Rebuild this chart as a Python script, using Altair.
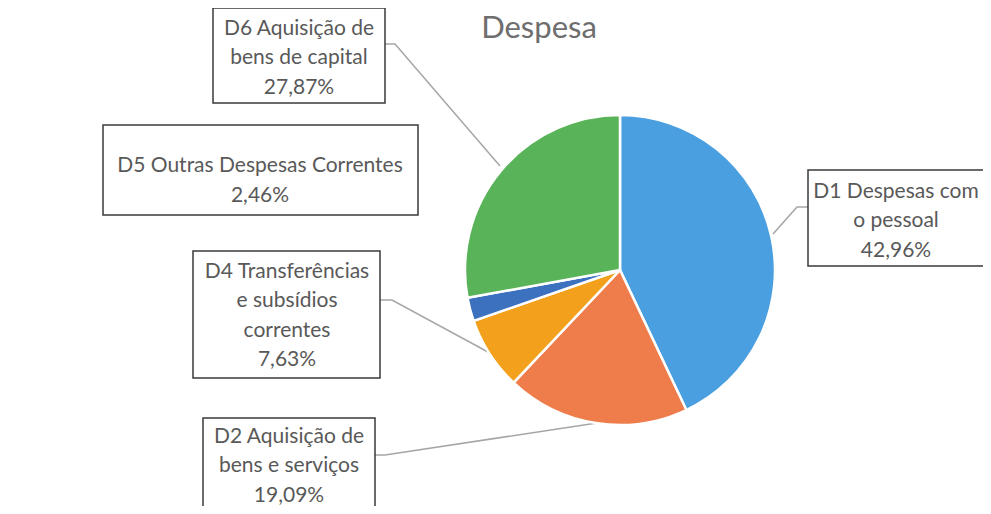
import altair as alt
import pandas as pd

# ---- data ----
categories = [
    "D1 Despesas com o pessoal",
    "D2 Aquisição de bens e serviços",
    "D4 Transferências e subsídios correntes",
    "D5 Outras Despesas Correntes",
    "D6 Aquisição de bens de capital",
]
values = [42.96, 19.09, 7.63, 2.46, 27.87]
label_lines = [
    ["D1 Despesas com", "o pessoal"],
    ["D2 Aquisição de", "bens e serviços"],
    ["D4 Transferências", "e subsídios", "correntes"],
    ["D5 Outras Despesas Correntes"],
    ["D6 Aquisição de", "bens de capital"],
]
title_text = "Despesa"

# ---- styles / layout (page pixels) ----
colors = ["#4a9fe0", "#ef7d4c", "#f3a11d", "#3b71bf", "#59b459"]
M = 8  # page margin
W, H = 975, 498
CX, CY, R = 620, 270, 155
boxes = [(808, 1000, 170, 266), (203, 375, 418, 530), (193, 380, 251, 378),
         (103, 418, 125, 215), (213, 385, 8, 103)]
text_centers = [(896, 221), (289, 466), (287, 316), (260, 181), (299, 58)]
line_h = 29.5
leaders = [
    [(808, 207), (797, 207), (773, 234)],
    [(375, 455), (385, 455), (597, 423)],
    [(380, 300), (392, 300), (488, 352)],
    [],
    [(385, 44), (395, 44), (500, 166)],
]
font = "Lato"
text_color = "#595959"

pie_df = pd.DataFrame({"category": categories, "value": values,
                       "ord": list(range(len(categories)))})

box_df = pd.DataFrame([
    {"category": c, "x0": b[0] - M, "x1": b[1] - M, "y0": b[2] - M, "y1": b[3] - M}
    for c, b in zip(categories, boxes)
])

rows = []
for c, v, lines, (tx, ty) in zip(categories, values, label_lines, text_centers):
    allines = lines + [f"{v:.2f}".replace(".", ",") + "%"]
    n = len(allines)
    for i, t in enumerate(allines):
        rows.append({"category": c, "t": t, "x": tx - M,
                     "y": ty - M + (i - (n - 1) / 2) * line_h})
text_df = pd.DataFrame(rows)

lrows = []
for c, pts in zip(categories, leaders):
    for j, (px, py) in enumerate(pts):
        lrows.append({"category": c, "seq": j, "x": px - M, "y": py - M})
line_df = pd.DataFrame(lrows)

title_df = pd.DataFrame({"t": [title_text], "x": [539 - M], "y": [29 - M]})

pie = alt.Chart(pie_df).mark_arc(outerRadius=R, stroke="white", strokeWidth=2.5).encode(
    theta=alt.Theta("value:Q", stack=True),
    color=alt.Color("category:N", scale=alt.Scale(domain=categories, range=colors), legend=None),
    order=alt.Order("ord:Q"),
    x=alt.value(CX - M),
    y=alt.value(CY - M),
)

leader = alt.Chart(line_df).mark_line(color="#a6a6a6", strokeWidth=1.5).encode(
    x=alt.X("x:Q", scale=None, axis=None),
    y=alt.Y("y:Q", scale=None, axis=None),
    detail="category:N",
    order="seq:Q",
)

box = alt.Chart(box_df).mark_rect(fill="white", stroke="#3a3a3a", strokeWidth=1.5).encode(
    x=alt.X("x0:Q", scale=None, axis=None),
    x2="x1:Q",
    y=alt.Y("y0:Q", scale=None, axis=None),
    y2="y1:Q",
)

txt = alt.Chart(text_df).mark_text(font=font, fontSize=21, color=text_color,
                                   align="center", baseline="middle").encode(
    x=alt.X("x:Q", scale=None, axis=None),
    y=alt.Y("y:Q", scale=None, axis=None),
    text="t:N",
)

title = alt.Chart(title_df).mark_text(font=font, fontSize=31, color="#6e6e6e",
                                      align="center", baseline="middle").encode(
    x=alt.X("x:Q", scale=None, axis=None),
    y=alt.Y("y:Q", scale=None, axis=None),
    text="t:N",
)

chart = alt.layer(leader, pie, box, txt, title).properties(
    width=W, height=H, padding=0,
    autosize=alt.AutoSizeParams(type="none"),
).configure_view(stroke=None)

chart.save("out.html", embed_options={"renderer": "svg", "actions": False})
